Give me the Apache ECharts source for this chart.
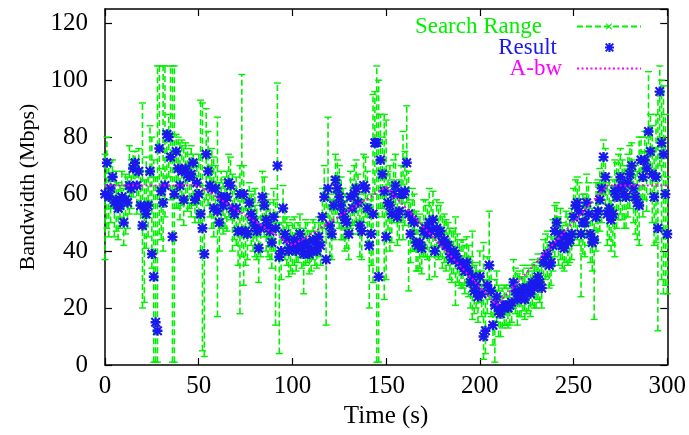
<!DOCTYPE html>
<html>
<head>
<meta charset="utf-8">
<script src="https://cdn.jsdelivr.net/npm/echarts@6/dist/echarts.min.js"></script>
<style>
html,body{margin:0;padding:0;background:#fff;}
#chart{width:689px;height:435px;}
</style>
</head>
<body>
<div id="chart"></div>
<script>
// Result (Mbps), one sample per second, t = 0..300
const result = [
60,71,59,62,66,57,58,55,56,59,
50,58,57,63,62,69,71,63,68,56,
49,55,53,56,68,39,31,15,12,76,
61,57,63,81,80,73,45,60,75,69,
63,68,58,69,67,66,67,71,58,64,
60,53,48,39,74,68,63,62,55,62,
54,50,59,56,58,59,64,63,55,53,
55,47,60,47,60,47,46,57,53,51,
49,47,41,48,59,56,51,49,47,43,
52,48,70,38,40,55,46,44,40,41,
42,44,40,43,46,41,39,43,42,39,
40,44,43,40,45,42,52,59,37,62,
49,46,56,65,62,59,56,53,51,50,
46,59,55,60,62,57,49,47,63,62,
55,42,46,53,78,78,31,72,67,61,
45,57,56,53,60,63,52,54,60,60,
61,71,53,46,51,50,43,42,43,41,
47,48,46,50,47,51,40,48,46,47,
43,44,42,42,39,37,40,39,37,36,
35,35,33,36,33,29,31,26,28,24,
31,25,10,12,28,35,26,14,21,24,
19,18,20,21,21,20,21,22,29,26,
23,25,24,27,23,26,27,25,29,27,
28,31,29,27,36,38,39,35,36,42,
47,50,43,46,42,41,45,43,44,46,
52,56,57,54,46,50,50,57,53,46,
43,44,52,54,58,62,73,66,53,55,
51,53,61,59,62,66,63,60,59,64,
67,70,62,59,57,56,72,66,72,69,
82,75,67,59,66,48,96,78,74,60,
46
];
// Search range lower bound
const rangeLow = [
37,48,45,50,55,45,47,44,48,50,
42,46,48,53,55,59,62,53,56,48,
20,22,41,45,56,34,1,1,1,46,
44,40,52,62,66,58,1,1,55,55,
51,56,49,57,54,55,52,56,50,52,
50,40,5,3,58,56,52,48,45,50,
17,40,48,46,48,47,52,51,40,44,
42,35,18,38,28,35,37,45,42,40,
38,37,29,38,48,45,40,38,37,34,
40,14,52,4,30,44,37,35,31,33,
32,35,33,36,38,34,25,35,36,32,
33,37,35,34,38,35,43,48,14,45,
38,37,44,53,50,48,44,44,40,41,
37,48,46,49,50,46,38,37,50,52,
42,20,35,29,60,1,1,55,52,23,
30,44,40,43,50,53,42,44,50,44,
49,57,26,36,40,40,33,33,34,32,
38,38,37,30,38,40,31,38,37,38,
34,36,33,35,30,29,32,21,29,28,
27,27,25,28,24,20,16,18,20,15,
22,17,2,4,18,23,17,7,1,15,
10,10,13,14,14,13,14,15,20,18,
14,17,17,19,16,18,19,17,21,20,
20,23,22,20,28,30,31,27,28,33,
38,41,35,37,34,33,36,35,36,37,
42,45,44,42,24,39,38,45,42,36,
33,16,40,43,47,50,60,53,42,44,
40,42,38,48,51,53,51,48,48,52,
55,58,50,46,44,42,58,52,58,54,
68,60,50,42,43,12,70,30,25,28,
25
];
// Search range upper bound
const rangeHigh = [
74,80,72,72,72,66,68,64,63,68,
62,67,66,77,72,75,75,72,76,68,
92,65,73,68,84,80,72,66,105,105,
69,105,105,82,88,105,105,105,81,80,
78,79,77,78,76,74,77,74,70,72,
74,93,92,63,90,82,70,76,73,70,
87,64,68,65,66,68,74,73,67,62,
66,61,70,102,70,58,55,64,61,60,
62,56,52,57,68,66,60,58,57,53,
62,58,99,50,50,63,55,52,50,49,
51,52,48,50,53,47,48,51,50,47,
47,51,50,47,52,50,62,70,60,87,
60,58,66,74,72,70,66,62,60,60,
55,68,65,70,72,67,60,58,74,73,
68,58,60,95,96,105,100,88,80,88,
86,68,70,65,72,74,62,65,70,82,
75,91,68,58,62,60,54,52,53,50,
58,58,56,62,57,61,50,58,56,57,
52,53,51,50,48,47,48,52,46,44,
44,44,42,45,42,38,47,35,36,33,
40,33,43,30,38,54,35,24,30,33,
28,26,27,28,28,27,28,30,37,34,
32,33,31,35,31,34,35,33,37,35,
36,39,37,35,44,46,47,43,45,51,
56,57,52,55,50,49,54,52,53,55,
62,65,66,64,56,60,60,67,64,57,
55,54,64,65,69,72,79,76,64,66,
63,65,72,71,74,76,72,70,70,74,
77,78,72,70,68,80,80,75,82,80,
103,88,84,76,88,96,105,100,98,88,
66
];
// Available bandwidth (A-bw) breakpoints
const abwTime = [0, 50, 100, 150, 209, 268, 300];
const abwValue = [63, 63, 42, 62.5, 21, 63, 63];

const xTicks = [0, 50, 100, 150, 200, 250, 300];
const yTicks = [0, 20, 40, 60, 80, 100, 120];
const yMax = 125;

const FONT = "'Liberation Serif','DejaVu Serif',serif";
const GREEN = '#00f000';
const BLUE = '#1a1aee';
const MAGENTA = '#ff00ff';

const n = Math.min(result.length, rangeLow.length, rangeHigh.length);
const rangeData = [];
const resultData = [];
for (let i = 0; i < n; i++) {
  rangeData.push([i, rangeLow[i], rangeHigh[i], result[i]]);
  resultData.push([i, result[i]]);
}
const abwData = abwTime.map((t, i) => [t, abwValue[i]]);

const asterisk = 'path://M3.8,0L6.2,0L6.2,10L3.8,10Z M0,3.8L10,3.8L10,6.2L0,6.2Z M1.5,0L10,8.5L8.5,10L0,1.5Z M8.5,0L10,1.5L1.5,10L0,8.5Z';
const xMark = 'path://M1,0L10,9L9,10L0,1Z M9,0L10,1L1,10L0,9Z';

const chart = echarts.init(document.getElementById('chart'), null, {renderer: 'canvas'});

const axisCommon = {
  type: 'value',
  splitLine: {show: false},
  axisLine: {show: true, onZero: false, lineStyle: {color: '#000', width: 1.5}},
  axisTick: {show: true, inside: true, length: 7, lineStyle: {color: '#000', width: 1.2}}
};
const yLabelFmt = function (v) { return yTicks.indexOf(v) >= 0 ? String(v) : ''; };

const option = {
  animation: false,
  backgroundColor: '#fff',
  grid: {left: 105, right: 19, top: 9, bottom: 70},
  xAxis: [
    Object.assign({}, axisCommon, {
      position: 'bottom', min: xTicks[0], max: xTicks[xTicks.length - 1], interval: 50,
      name: 'Time (s)', nameLocation: 'middle', nameGap: 35,
      nameTextStyle: {fontFamily: FONT, fontSize: 25, color: '#000'},
      axisLabel: {fontFamily: FONT, fontSize: 25, color: '#000', margin: 9}
    }),
    Object.assign({}, axisCommon, {
      position: 'top', min: 0, max: 300, interval: 50, axisLabel: {show: false}
    })
  ],
  yAxis: [
    Object.assign({}, axisCommon, {
      position: 'left', min: yTicks[0], max: yMax, interval: 20,
      name: 'Bandwidth (Mbps)', nameLocation: 'middle', nameGap: 62,
      nameTextStyle: {fontFamily: FONT, fontSize: 22, color: '#000'},
      axisLabel: {fontFamily: FONT, fontSize: 25, color: '#000', margin: 17,
                  showMaxLabel: false, formatter: yLabelFmt}
    }),
    Object.assign({}, axisCommon, {
      position: 'right', min: 0, max: yMax, interval: 20, axisLabel: {show: false}
    })
  ],
  legend: [
    {
      right: 47, top: 15, padding: 0, align: 'right', itemWidth: 64, itemHeight: 8,
      selectedMode: false,
      data: [{name: 'Search Range', textStyle: {color: GREEN}}],
      textStyle: {fontFamily: FONT, fontSize: 23, padding: [0, 30, 0, 0]}
    },
    {
      right: 75, top: 36, padding: 0, align: 'right', itemWidth: 9, itemHeight: 9,
      selectedMode: false,
      data: [{name: 'Result', textStyle: {color: BLUE}}],
      textStyle: {fontFamily: FONT, fontSize: 23, padding: [0, 43, 0, 0]}
    },
    {
      right: 47, top: 57, padding: 0, align: 'right', itemWidth: 64, itemHeight: 8,
      selectedMode: false,
      data: [{name: 'A-bw', textStyle: {color: MAGENTA}, itemStyle: {opacity: 0}}],
      textStyle: {fontFamily: FONT, fontSize: 23, padding: [0, 10, 0, 0]}
    }
  ],
  series: [
    {
      name: 'Search Range', type: 'line', data: [],
      symbol: xMark, symbolSize: 7,
      itemStyle: {color: GREEN},
      lineStyle: {color: GREEN, width: 1.3, type: [6, 3]}
    },
    {
      name: 'Search Range', type: 'custom',
      data: rangeData,
      encode: {x: 0, y: [1, 2]},
      renderItem: function (params, api) {
        const x = api.value(0);
        const pLo = api.coord([x, api.value(1)]);
        const pHi = api.coord([x, api.value(2)]);
        const pMid = api.coord([x, api.value(3)]);
        const cap = 3.5;
        const solid = {stroke: GREEN, lineWidth: 1.4, fill: null};
        return {
          type: 'group',
          children: [
            {type: 'line', shape: {x1: pLo[0], y1: pLo[1], x2: pHi[0], y2: pHi[1]},
             style: {stroke: GREEN, lineWidth: 1.6, lineDash: [6, 3], fill: null}},
            {type: 'line', shape: {x1: pLo[0] - cap, y1: pLo[1], x2: pLo[0] + cap, y2: pLo[1]}, style: solid},
            {type: 'line', shape: {x1: pHi[0] - cap, y1: pHi[1], x2: pHi[0] + cap, y2: pHi[1]}, style: solid},
            {type: 'line', shape: {x1: pMid[0] - 3, y1: pMid[1] - 3, x2: pMid[0] + 3, y2: pMid[1] + 3}, style: solid},
            {type: 'line', shape: {x1: pMid[0] - 3, y1: pMid[1] + 3, x2: pMid[0] + 3, y2: pMid[1] - 3}, style: solid}
          ]
        };
      },
      z: 2
    },
    {
      name: 'Result', type: 'scatter', data: resultData,
      symbol: asterisk, symbolSize: 10,
      itemStyle: {color: BLUE, opacity: 1},
      z: 3
    },
    {
      name: 'A-bw', type: 'line', data: abwData,
      symbol: 'none', smooth: false,
      itemStyle: {color: MAGENTA},
      lineStyle: {color: MAGENTA, width: 2, type: [2, 2.5]},
      z: 4
    }
  ]
};
chart.setOption(option);
</script>
</body>
</html>
